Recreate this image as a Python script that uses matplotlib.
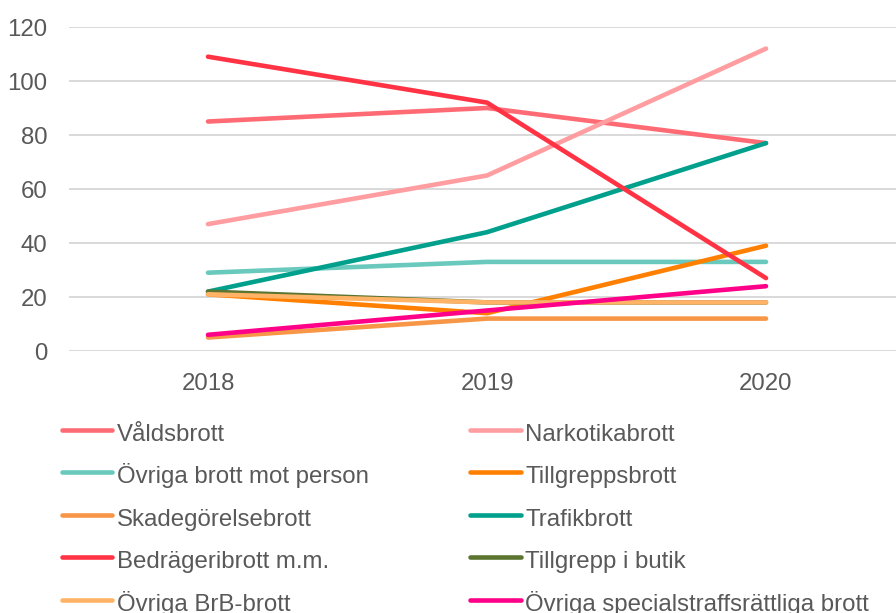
import matplotlib.pyplot as plt

plt.rcParams['font.family'] = ['Liberation Sans', 'DejaVu Sans']

# ── data ────────────────────────────────────────────────────────────────
years = ['2018', '2019', '2020']
series_names = [
    'Våldsbrott', 'Narkotikabrott', 'Övriga brott mot person', 'Tillgreppsbrott',
    'Skadegörelsebrott', 'Trafikbrott', 'Bedrägeribrott m.m.', 'Tillgrepp i butik',
    'Övriga BrB-brott', 'Övriga specialstraffsrättliga brott',
]
valdsbrott = [85, 90, 77]
narkotikabrott = [47, 65, 112]
ovriga_person = [29, 33, 33]
tillgreppsbrott = [21, 14, 39]
skadegorelse = [5, 12, 12]
trafikbrott = [22, 44, 77]
bedrageri = [109, 92, 27]
tillgrepp_butik = [22, 18, 18]
ovriga_brb = [21, 18, 18]
ovriga_special = [6, 15, 24]

series_values = [valdsbrott, narkotikabrott, ovriga_person, tillgreppsbrott,
                 skadegorelse, trafikbrott, bedrageri, tillgrepp_butik,
                 ovriga_brb, ovriga_special]
colors = ['#FF6B74', '#FF9DA1', '#69C9BD', '#FF8000', '#F79646',
          '#00A08C', '#FF3343', '#5B7530', '#FFB366', '#FF0088']

# ── plot ────────────────────────────────────────────────────────────────
fig = plt.figure(figsize=(8.96, 6.13), dpi=100)
ax = fig.add_axes([68.5 / 896, 262 / 613, 837 / 896, 324 / 613])

x = range(len(years))
handles = []
for name, vals, c in zip(series_names, series_values, colors):
    h, = ax.plot(x, vals, color=c, linewidth=3.3, solid_capstyle='round',
                 solid_joinstyle='round', label=name)
    handles.append(h)

ax.set_xlim(-0.5, 2.5)
ax.set_ylim(0, 120)
ax.set_yticks(range(0, 121, 20))
ax.set_xticks(list(x))
ax.set_xticklabels(years)
ax.grid(axis='y', color='#D9D9D9', linewidth=1.4)
ax.set_axisbelow(True)
for s in ax.spines.values():
    s.set_visible(False)
ax.tick_params(length=0, labelsize=17.3, labelcolor='#595959')
ax.tick_params(axis='y', pad=15)
ax.tick_params(axis='x', pad=16)

# legend: row-wise order in two columns; tall handle boxes keep rows even
order = [0, 2, 4, 6, 8, 1, 3, 5, 7, 9]
leg = fig.legend([handles[i] for i in order], [series_names[i] for i in order],
                 ncol=2, loc='upper left', bbox_to_anchor=(62 / 896, 1 - 419 / 613),
                 frameon=False, fontsize=17.3, handlelength=2.1, handleheight=1.4,
                 handletextpad=0.2, columnspacing=4.2, labelspacing=0.61,
                 borderpad=0, borderaxespad=0)
for t in leg.get_texts():
    t.set_color('#595959')

plt.savefig('out.png', dpi=100)
